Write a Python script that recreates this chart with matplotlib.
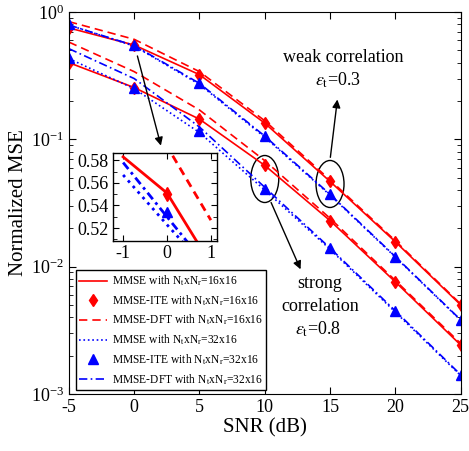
import matplotlib
matplotlib.use("Agg")
import matplotlib.pyplot as plt
import numpy as np
from matplotlib.patches import Ellipse
from matplotlib.transforms import ScaledTranslation

plt.rcParams["font.family"] = ["Liberation Serif", "DejaVu Serif"]
plt.rcParams["mathtext.fontset"] = "stix"
plt.rcParams["axes.unicode_minus"] = False

snr = [-5, 0, 5, 10, 15, 20, 25]

# weak correlation, eps_t = 0.3
weak_mmse16 = [0.75, 0.55, 0.322, 0.134, 0.0467, 0.0157, 0.00502]
weak_ite16 = [0.75, 0.55, 0.322, 0.134, 0.0467, 0.0157, 0.00502]
weak_dft16 = [0.84, 0.61, 0.34, 0.140, 0.048, 0.0160, 0.0051]
weak_mmse32 = [0.79, 0.54, 0.270, 0.104, 0.0365, 0.0119, 0.0038]
weak_ite32 = [0.80, 0.55, 0.277, 0.106, 0.0369, 0.0120, 0.00383]
weak_dft32 = [0.79, 0.545, 0.275, 0.106, 0.0370, 0.0120, 0.00383]

# strong correlation, eps_t = 0.8
strong_mmse16 = [0.40, 0.255, 0.144, 0.0624, 0.0230, 0.0076, 0.00243]
strong_ite16 = [0.40, 0.255, 0.144, 0.0624, 0.0230, 0.0076, 0.00243]
strong_dft16 = [0.58, 0.34, 0.170, 0.068, 0.0240, 0.0078, 0.0025]
strong_mmse32 = [0.43, 0.25, 0.113, 0.040, 0.0137, 0.0044, 0.0014]
strong_ite32 = [0.432, 0.255, 0.116, 0.041, 0.0139, 0.0045, 0.00141]
strong_dft32 = [0.515, 0.30, 0.125, 0.042, 0.0140, 0.0045, 0.00142]

# zoomed view around SNR = 0 dB (weak correlation)
inset_snr = [-1, 0, 1]
inset_mmse16 = [0.583, 0.551, 0.488]
inset_dft16 = [0.658, 0.5925, 0.527]
inset_mmse32 = [0.567, 0.523, 0.480]
inset_dft32 = [0.578, 0.530, 0.482]
inset_ite_snr = [0]
inset_ite16 = [0.550]
inset_ite32 = [0.5345]

labels = [
    r"MMSE with N$_\mathrm{t}$xN$_\mathrm{r}$=16x16",
    r"MMSE-ITE with N$_\mathrm{t}$xN$_\mathrm{r}$=16x16",
    r"MMSE-DFT with N$_\mathrm{t}$xN$_\mathrm{r}$=16x16",
    r"MMSE with N$_\mathrm{t}$xN$_\mathrm{r}$=32x16",
    r"MMSE-ITE with N$_\mathrm{t}$xN$_\mathrm{r}$=32x16",
    r"MMSE-DFT with N$_\mathrm{t}$xN$_\mathrm{r}$=32x16",
]

RED = (1, 0, 0)
BLUE = (0, 0, 1)

fig = plt.figure(figsize=(4.69, 4.51), dpi=100)
ax = fig.add_axes([0.147, 0.1264, 0.835, 0.847])

lw = 1.2
handles = []
for i, (m16, i16, d16, m32, i32, d32) in enumerate([
    (weak_mmse16, weak_ite16, weak_dft16, weak_mmse32, weak_ite32, weak_dft32),
    (strong_mmse16, strong_ite16, strong_dft16, strong_mmse32, strong_ite32, strong_dft32),
]):
    h1, = ax.plot(snr, m16, "-", color=RED, lw=lw)
    h3, = ax.plot(snr, d16, "--", color=RED, lw=lw, dashes=(5, 3))
    h4, = ax.plot(snr, m32, ":", color=BLUE, lw=lw)
    h6, = ax.plot(snr, d32, "-.", color=BLUE, lw=lw, dashes=(5, 2, 1, 2))
    h2, = ax.plot(snr, i16, "d", color=RED, ms=6, ls="none")
    h5, = ax.plot(snr, i32, "^", color=BLUE, ms=7, ls="none")
    if i == 0:
        handles = [h1, h2, h3, h4, h5, h6]

ax.set_yscale("log")
ax.set_xlim(-5, 25)
ax.set_ylim(1e-3, 1)
ax.set_xticks([-5, 0, 5, 10, 15, 20, 25])
ax.tick_params(which="both", direction="in", top=True, right=True, labelsize=13)
ax.tick_params(which="major", length=5)
ax.tick_params(which="minor", length=3)
ax.set_xlabel("SNR (dB)", fontsize=15, labelpad=2)
ax.set_ylabel("Normalized MSE", fontsize=15, labelpad=2)

leg = ax.legend(handles, labels, loc="lower left", bbox_to_anchor=(0.018, 0.0105),
                borderaxespad=0, fontsize=8.3, fancybox=False, edgecolor="k",
                framealpha=1, handlelength=2.4, handletextpad=0.4,
                labelspacing=0.45, borderpad=0.3)
leg.get_frame().set_linewidth(1.0)

# ellipses around the markers
for xc, yc in [(10, 0.0488), (15, 0.0446)]:
    tr = fig.dpi_scale_trans + ScaledTranslation(xc, yc, ax.transData)
    ax.add_patch(Ellipse((0, 0), 0.28, 0.47, transform=tr, fill=False, ec="k", lw=1.0))

arrow = dict(arrowstyle="-|>", color="k", lw=1.0, mutation_scale=12)
ax.annotate("", xy=(15.59, 0.216), xytext=(15.0, 0.0687), arrowprops=arrow)
ax.annotate("", xy=(12.83, 0.0091), xytext=(10.4, 0.0334), arrowprops=arrow)
ax.annotate("", xy=(2.1, 0.085), xytext=(0.19, 0.474), arrowprops=arrow)

ax.text(16.0, 0.443, "weak correlation", ha="center", va="center", fontsize=13)
ax.text(15.6, 0.292, r"$\epsilon_\mathrm{t}$=0.3", ha="center", va="center", fontsize=13)
ax.text(14.23, 0.00743, "strong", ha="center", va="center", fontsize=13)
ax.text(14.23, 0.0049, "correlation", ha="center", va="center", fontsize=13)
ax.text(14.1, 0.00323, r"$\epsilon_\mathrm{t}$=0.8", ha="center", va="center", fontsize=13)

# inset
axi = fig.add_axes([0.241, 0.4667, 0.2217, 0.193])
ilw = 2.0
axi.plot(inset_snr, inset_mmse16, "-", color=RED, lw=ilw)
axi.plot(inset_snr, inset_dft16, "--", color=RED, lw=ilw, dashes=(3, 2))
axi.plot(inset_snr, inset_mmse32, ":", color=BLUE, lw=ilw)
axi.plot(inset_snr, inset_dft32, "-.", color=BLUE, lw=ilw, dashes=(3, 1.5, 1, 1.5))
axi.plot(inset_ite_snr, inset_ite16, "d", color=RED, ms=7)
axi.plot(inset_ite_snr, inset_ite32, "^", color=BLUE, ms=7)
axi.set_xlim(-1.23, 1.14)
axi.set_ylim(0.509, 0.586)
axi.set_xticks([-1, 0, 1])
axi.set_yticks([0.52, 0.54, 0.56, 0.58])
axi.set_yticks(np.arange(0.51, 0.586, 0.01), minor=True)
axi.set_yticklabels(["0.52", "0.54", "0.56", "0.58"])
axi.tick_params(which="both", direction="in", top=True, right=True, labelsize=13, pad=3)
axi.tick_params(which="major", length=4)
axi.tick_params(which="minor", length=3)
for s in axi.spines.values():
    s.set_linewidth(1.0)

fig.savefig("out.png", dpi=100)
